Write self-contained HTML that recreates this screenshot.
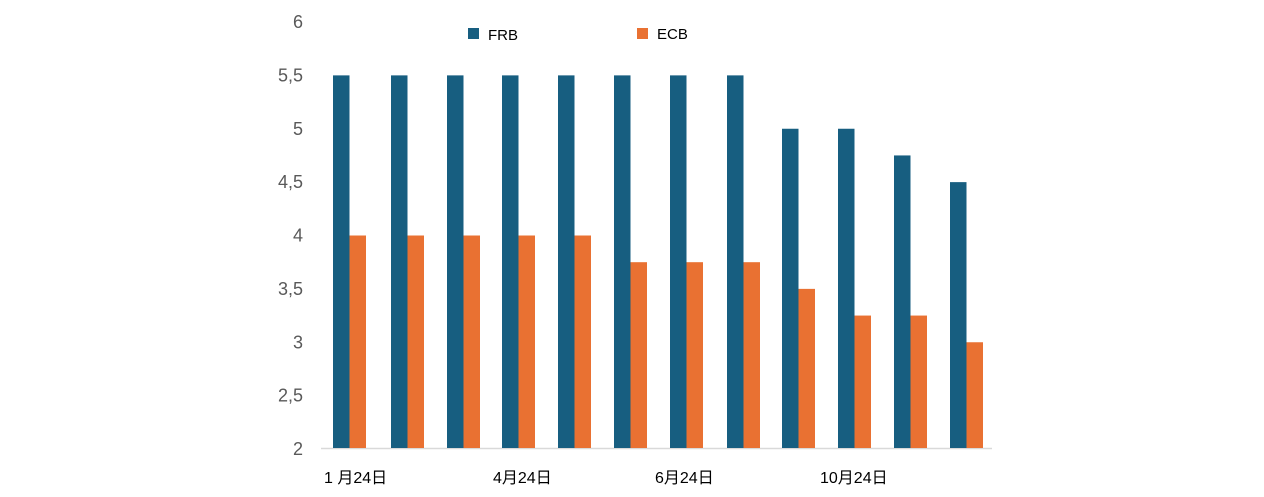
<!DOCTYPE html>
<html><head><meta charset="utf-8"><style>
html,body{margin:0;padding:0;background:#fff;}
svg{display:block;}
.y{font-family:"Liberation Sans","Noto Sans CJK JP",sans-serif;font-size:18px;fill:#595959;text-anchor:end;}
.x{font-family:"Liberation Sans","Noto Sans CJK JP",sans-serif;font-size:16px;fill:#000;}
.l{font-family:"Liberation Sans",sans-serif;font-size:15px;fill:#000;}
</style></head><body>
<svg width="1264" height="497" xmlns="http://www.w3.org/2000/svg">
<g id="yl"></g>
<line x1="321" y1="448.5" x2="992" y2="448.5" stroke="#d9d9d9" stroke-width="1.5"/>
<g id="bars"></g>
<rect x="468" y="28" width="11" height="11" fill="#175e80"/>
<text class="l" x="488" y="40">FRB</text>
<rect x="637" y="28" width="11" height="11" fill="#e97132"/>
<text class="l" x="657" y="39">ECB</text>
<text class="x" x="324" y="483">1 月24日</text>
<text class="x" x="493" y="483">4月24日</text>
<text class="x" x="655" y="483">6月24日</text>
<text class="x" x="820" y="483">10月24日</text>
<script>
var ns="http://www.w3.org/2000/svg";
function Y(v){return 449-(v-2)*106.75;}
var yl=document.getElementById("yl");
["2","2,5","3","3,5","4","4,5","5","5,5","6"].forEach(function(t,i){
 var e=document.createElementNS(ns,"text");e.setAttribute("class","y");
 e.setAttribute("x",303);e.setAttribute("y",Y(2+i*0.5)+6);e.textContent=t;yl.appendChild(e);});
var f=[5.5,5.5,5.5,5.5,5.5,5.5,5.5,5.5,5,5,4.75,4.5];
var c=[4,4,4,4,4,3.75,3.75,3.75,3.5,3.25,3.25,3];
var xs=[333,391,447,502,558,614,670,727,782,838,894,950];
var g=document.getElementById("bars");
for(var i=0;i<12;i++){
 [[f[i],"#175e80",0],[c[i],"#e97132",16.5]].forEach(function(a){
  var r=document.createElementNS(ns,"rect");
  r.setAttribute("x",xs[i]+a[2]);r.setAttribute("width",16.5);
  r.setAttribute("y",Y(a[0]));r.setAttribute("height",448-Y(a[0]));
  r.setAttribute("fill",a[1]);g.appendChild(r);});
}
</script>
</svg>
</body></html>
